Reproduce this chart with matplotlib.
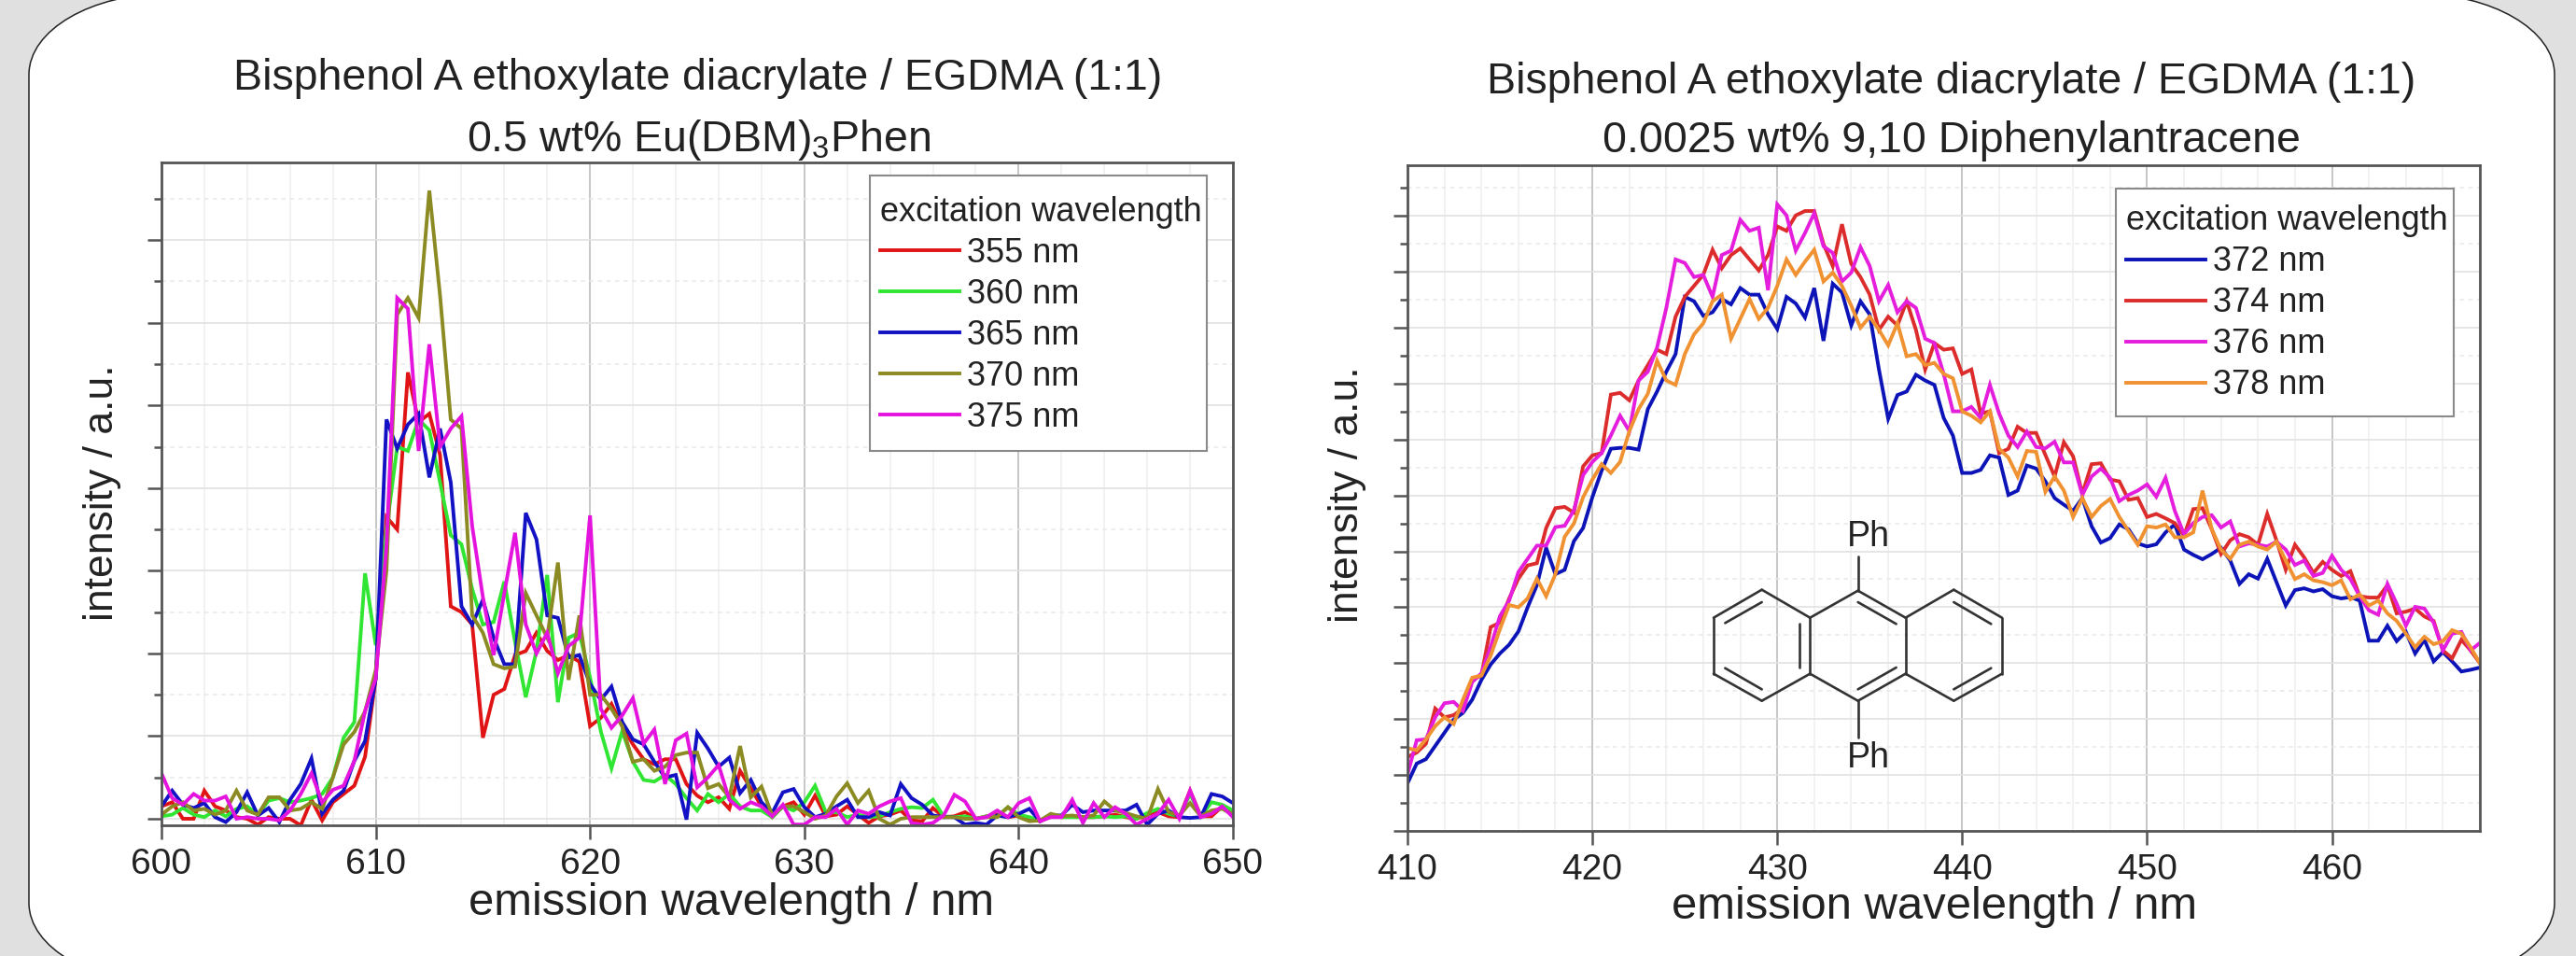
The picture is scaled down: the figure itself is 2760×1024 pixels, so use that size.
import numpy as np
import matplotlib
matplotlib.use("Agg")
import matplotlib.pyplot as plt
from matplotlib.path import Path
from matplotlib.patches import PathPatch, Rectangle
from matplotlib.ticker import MultipleLocator, NullFormatter

plt.rcParams['font.family'] = ['Liberation Sans', 'DejaVu Sans']
plt.rcParams['mathtext.default'] = 'regular'
plt.rcParams['mathtext.fontset'] = 'custom'
plt.rcParams['mathtext.rm'] = 'Liberation Sans'

W, H = 2760, 1024
TEXT = '#222222'

title_main = 'Bisphenol A ethoxylate diacrylate / EGDMA (1:1)'
title_left = '0.5 wt% Eu(DBM)$_3$Phen'
title_right = '0.0025 wt% 9,10 Diphenylantracene'
xlabel = 'emission wavelength / nm'
ylabel = 'intensity / a.u.'
legend_title = 'excitation wavelength'

# Left panel: emission 600-650 nm in 0.5 nm steps
wl_left = np.arange(600, 650.01, 0.5)
ex355 = [.15,.2,.0,.0,.34,.15,.1,.02,.0,-.07,
         .02,.0,.0,-.08,.23,-.02,.2,.3,.4,.75,
         1.7,3.65,3.5,5.4,4.8,4.9,4.4,2.57,2.5,2.35,
         .98,1.5,1.57,1.98,2.03,2.25,2.03,1.92,1.98,1.9,
         1.12,1.22,1.39,1.12,.9,.72,.66,.72,.72,.42,
         .28,.2,.26,.12,.58,.37,.15,.02,.15,.2,
         .05,.28,.03,.05,.15,.05,-.05,.03,.05,.1,
         -.02,-.03,.13,.02,.03,.08,.0,.03,.05,.02,
         .04,.0,-.03,.03,.02,.03,.02,.02,.03,.05,
         .02,.0,.05,.08,.03,.02,.34,.03,.03,.15,.05]
ex360 = [.03,.05,.13,.05,.02,.1,.03,.12,.15,.05,
         .22,.25,.2,.22,.25,.3,.5,.98,1.17,2.97,
         2.1,3.5,4.5,4.45,4.83,4.7,4.07,3.43,3.32,2.78,
         2.35,2.38,2.87,2.14,1.47,2.03,2.95,1.41,2.19,2.25,
         1.71,1.06,.61,1.06,.69,.47,.45,.53,.42,.25,
         .1,.3,.2,.3,.15,.1,.1,.02,.15,.1,
         .2,.4,.08,.08,.02,.05,.02,.03,.08,.12,
         .14,.13,.23,.03,.02,.03,.0,.03,.03,.14,
         .05,.02,-.02,.03,.02,.02,.02,.02,.03,.02,
         .03,.0,.07,.12,.06,.03,.3,.03,.2,.17,.1]
ex365 = [.15,.34,.17,.13,.19,.02,-.04,.08,.32,.04,
         .13,-.04,.23,.42,.73,.06,.23,.34,.7,.94,
         1.7,4.83,4.48,4.77,4.9,4.13,4.72,4.07,2.57,2.35,
         2.65,2.19,1.87,1.87,3.7,3.38,2.46,2.43,1.95,1.98,
         1.63,1.44,1.6,1.17,.96,.9,.69,.5,.53,-.01,
         1.04,.85,.63,.74,.31,.47,.2,.07,.32,.36,
         .14,.02,.06,.15,.23,.02,.02,.08,.04,.42,
         .25,.17,.04,.02,.02,-.07,-.05,-.07,.04,.02,
         .06,.12,-.03,.04,.04,.17,.08,.1,.1,.1,
         .1,.17,-.07,.06,.1,.02,.01,.02,.3,.27,.19]
ex370 = [.05,.15,.2,.1,.12,.05,.1,.34,.1,.05,
         .26,.26,.1,.12,.2,.12,.5,.9,1.05,1.3,
         1.8,3.0,6.1,6.3,6.06,7.6,6.33,4.83,4.72,2.46,
         2.25,1.87,1.82,1.84,2.73,2.46,2.19,3.1,1.68,2.46,
         1.5,1.5,1.33,1.12,.69,.72,.58,.63,.77,.8,
         .8,.37,.42,.26,.88,.26,.39,.04,.15,.15,
         .08,.0,.04,.27,.43,.19,.34,.0,-.07,.0,
         .02,.02,.02,.02,.02,.0,.0,.02,.02,.14,
         .02,-.03,-.02,.06,.03,.04,.02,.04,.21,.1,
         .07,.03,.0,.36,.08,.04,.19,.03,.1,.12,.05]
ex375 = [.55,.25,.17,.3,.22,.22,.27,.0,.02,.0,
         .0,-.02,.1,.3,.55,.2,.35,.4,.7,1.3,
         1.7,3.3,6.3,6.17,4.45,5.74,4.5,4.72,4.87,3.54,
         2.68,1.98,2.73,3.46,2.35,2.0,2.25,1.76,2.09,2.19,
         3.67,1.33,1.1,1.25,1.46,.91,1.08,.42,.95,1.03,
         .38,.5,.65,.23,.12,.2,.15,.03,.17,-.07,
         -.07,.02,.02,.12,-.07,.1,.06,.15,.21,.25,
         -.05,-.07,-.05,.04,.29,.21,.0,.02,.1,.02,
         .19,.25,-.03,.02,.02,.23,-.05,.19,.02,.14,
         .06,-.07,.0,.06,.23,.0,.34,.02,.06,.15,.02]
series_left = [ex355, ex360, ex365, ex370, ex375]
labels_left = ['355 nm', '360 nm', '365 nm', '370 nm', '375 nm']
colors_left = ['#e01414', '#30e632', '#1212c4', '#8c8a22', '#e414de']

# Right panel: emission 410-468 nm in 0.5 nm steps
wl_right = np.arange(410, 468.01, 0.5)
ex372 = [108,153,163,193,223,253,268,298,343,378,
         403,423,453,508,558,643,583,593,658,688,
         758,818,868,870,870,866,958,998,1043,1083,
         1213,1203,1170,1178,1208,1196,1233,1218,1218,1173,
         1140,1213,1198,1166,1233,1113,1243,1223,1148,1203,
         1173,1048,936,990,998,1036,1023,1013,938,898,
         813,813,820,853,848,763,773,830,823,794,
         756,741,727,756,692,655,665,696,685,653,
         646,651,678,696,639,627,617,629,643,614,
         561,583,573,618,565,512,547,551,544,549,
         533,528,531,523,432,432,466,431,452,403,
         434,385,406,385,362,366,371]
ex374 = [168,178,198,278,258,263,278,343,353,463,
         473,528,573,603,608,688,733,736,723,828,
         853,858,991,995,978,1023,1058,1093,1083,1168,
         1213,1238,1263,1320,1278,1308,1323,1298,1273,1308,
         1373,1363,1398,1408,1408,1333,1283,1378,1288,1258,
         1218,1138,1168,1148,1203,1138,1048,1108,1093,1096,
         1038,1048,948,953,858,868,918,904,904,854,
         805,883,851,766,833,835,798,794,752,756,
         713,720,710,699,671,731,733,685,629,660,
         674,667,650,720,660,593,650,621,586,611,
         593,579,590,533,530,530,558,494,498,505,
         487,477,410,392,434,410,381]
ex376 = [128,206,208,258,290,293,273,338,358,418,
         488,523,588,618,648,648,690,693,728,808,
         838,858,898,943,908,1023,1043,1098,1188,1298,
         1290,1258,1263,1213,1308,1318,1388,1363,1370,1228,
         1423,1398,1318,1358,1403,1328,1313,1248,1268,1326,
         1283,1203,1240,1178,1203,1188,1118,1108,1038,953,
         953,963,938,1013,948,898,872,907,872,869,
         884,837,837,763,805,823,802,749,763,773,
         787,759,802,727,674,699,713,717,689,703,
         646,653,650,646,657,639,604,614,579,586,
         625,593,572,533,501,491,561,516,466,509,
         505,473,410,448,452,410,427]
ex378 = [188,183,208,238,258,243,298,348,353,398,
         458,513,508,528,573,533,583,668,698,758,
         798,833,813,838,908,958,993,1068,1023,1013,
         1083,1128,1153,1203,1218,1118,1163,1208,1163,1188,
         1238,1298,1263,1293,1320,1248,1268,1238,1193,1143,
         1168,1138,1103,1153,1078,1083,1058,1063,1038,1028,
         953,943,928,953,868,848,805,863,861,770,
         805,773,713,756,713,738,754,713,681,650,
         692,689,696,667,667,678,773,685,639,618,
         650,657,646,639,657,614,572,583,569,565,
         558,569,526,537,512,523,494,477,448,417,
         441,424,431,456,448,417,381]
series_right = [ex372, ex374, ex376, ex378]
labels_right = ['372 nm', '374 nm', '376 nm', '378 nm']
colors_right = ['#0c14b8', '#dc2c2c', '#e41edc', '#f09232']

fig = plt.figure(figsize=(W / 100, H / 100), dpi=100)
fig.patch.set_facecolor('#e0e0e0')


def ax_px(x0, y0, x1, y1, **kw):
    return fig.add_axes([x0 / W, 1 - y1 / H, (x1 - x0) / W, (y1 - y0) / H], **kw)


# Rounded white card behind the charts
bg = ax_px(0, 0, W, H, zorder=0)
bg.set_xlim(0, W); bg.set_ylim(H, 0); bg.axis('off')
card_l, card_r, card_t, card_b = 31, 2737, -7, 1054
rx, ry, k = 150, 87, 0.5523
verts = [(card_l + rx, card_t), (card_r - rx, card_t),
         (card_r - rx + k * rx, card_t), (card_r, card_t + ry - k * ry), (card_r, card_t + ry),
         (card_r, card_b - ry),
         (card_r, card_b - ry + k * ry), (card_r - rx + k * rx, card_b), (card_r - rx, card_b),
         (card_l + rx, card_b),
         (card_l + rx - k * rx, card_b), (card_l, card_b - ry + k * ry), (card_l, card_b - ry),
         (card_l, card_t + ry),
         (card_l, card_t + ry - k * ry), (card_l + rx - k * rx, card_t), (card_l + rx, card_t),
         (card_l + rx, card_t)]
codes = [Path.MOVETO, Path.LINETO, Path.CURVE4, Path.CURVE4, Path.CURVE4, Path.LINETO,
         Path.CURVE4, Path.CURVE4, Path.CURVE4, Path.LINETO, Path.CURVE4, Path.CURVE4, Path.CURVE4,
         Path.LINETO, Path.CURVE4, Path.CURVE4, Path.CURVE4, Path.CLOSEPOLY]
bg.add_patch(PathPatch(Path(verts, codes), facecolor='white', edgecolor='#222222', lw=1.1, clip_on=False))


def style(ax, xlim, ylim, ymaj, ymin):
    ax.set_xlim(*xlim); ax.set_ylim(*ylim)
    ax.xaxis.set_major_locator(MultipleLocator(10))
    ax.xaxis.set_minor_locator(MultipleLocator(2))
    ax.yaxis.set_major_locator(MultipleLocator(ymaj))
    ax.yaxis.set_minor_locator(MultipleLocator(ymin))
    ax.yaxis.set_major_formatter(NullFormatter())
    ax.set_axisbelow(True)
    ax.grid(True, axis='x', which='major', color='#c2c2c2', lw=1.3)
    ax.grid(True, axis='y', which='major', color='#e2e2e2', lw=1.2)
    ax.grid(True, axis='x', which='minor', color='#efefef', lw=1.1)
    ax.grid(True, axis='y', which='minor', color='#e8e8e8', lw=1.1, ls=(0, (3, 3)))
    for s in ax.spines.values():
        s.set_color('#555555'); s.set_linewidth(2.0)
    ax.tick_params(axis='x', which='major', length=11, width=1.8, color='#555555',
                   labelsize=28, labelcolor=TEXT, pad=6)
    ax.tick_params(axis='x', which='minor', length=0)
    ax.tick_params(axis='y', which='major', length=11, width=1.8, color='#555555')
    ax.tick_params(axis='y', which='minor', length=5.5, width=1.8, color='#555555')


def legend(ax, frame_px, x0, y0, px_box, spacing):
    # Frame drawn separately: the reference has almost no padding to the right of the title
    bw, bh = px_box[2] - px_box[0], px_box[3] - px_box[1]
    fx0, fy0, fx1, fy1 = frame_px
    ax.add_patch(Rectangle(((fx0 - px_box[0]) / bw, 1 - (fy1 - px_box[1]) / bh),
                           (fx1 - fx0) / bw, (fy1 - fy0) / bh, transform=ax.transAxes,
                           facecolor='white', edgecolor='#8a8a8a', lw=1.5, zorder=4.9))
    lg = ax.legend(title=legend_title, alignment='left', loc='upper left',
                   bbox_to_anchor=((x0 - px_box[0]) / bw, 1 - (y0 - px_box[1]) / bh),
                   borderaxespad=0, fontsize=26, title_fontsize=26, frameon=False,
                   handlelength=2.35, handletextpad=0.22, labelspacing=spacing,
                   borderpad=0.42, labelcolor=TEXT)
    lg.set_zorder(5)
    lg.get_title().set_color(TEXT)
    for h in lg.get_lines():
        h.set_linewidth(2.8)
    return lg


box_l = (173, 174, 1321, 884)
axl = ax_px(*box_l, zorder=2)
for y, lab, c in zip(series_left, labels_left, colors_left):
    axl.plot(wl_left, y, color=c, lw=2.8, label=lab, solid_joinstyle='miter')
style(axl, (600, 650), (-0.079, 7.94), 1, 0.5)
legend(axl, (932, 188, 1293, 483), 928, 194.5, box_l, 0.25)

box_r = (1508, 176.5, 2657, 890)
axr = ax_px(*box_r, zorder=2)
for y, lab, c in zip(series_right, labels_right, colors_right):
    axr.plot(wl_right, y, color=c, lw=2.8, label=lab, solid_joinstyle='miter')
style(axr, (410, 468), (0, 1513), 127, 63.5)
legend(axr, (2267, 202, 2629, 446), 2263, 204, box_r, 0.25)

# Text and structure overlay in pixel coordinates
ov = ax_px(0, 0, W, H, zorder=3)
ov.set_xlim(0, W); ov.set_ylim(H, 0); ov.axis('off'); ov.patch.set_alpha(0)


def T(x, y, s, size=33.5, **kw):
    ov.text(x, y, s, fontsize=size, color=TEXT, ha='center', va='center', **kw)


T(748, 84, title_main)
T(748, 150, title_left)
T(2091, 88, title_main)
T(2091, 151, title_right)
T(784, 968, xlabel, size=35.3)
T(2073, 972, xlabel, size=35.3)
T(109, 528, ylabel, size=32, rotation=90)
T(1443, 530, ylabel, size=32, rotation=90)

# 9,10-diphenylanthracene skeleton (crop offsets give pixel positions)
ox, oy, sc = 1750, 540, 3
bonds = [((258,365),(413,275)), ((413,275),(568,365)), ((568,365),(568,545)), ((568,545),(413,632)),
         ((413,632),(258,545)), ((258,545),(258,365)), ((568,365),(722,278)), ((722,278),(875,365)),
         ((875,365),(875,545)), ((875,545),(722,632)), ((722,632),(568,545)), ((875,365),(1030,275)),
         ((1030,275),(1185,365)), ((1185,365),(1185,545)), ((1185,545),(1030,632)), ((1030,632),(875,545)),
         ((295,382),(413,315)), ((295,527),(413,595)), ((535,385),(535,525)), ((722,315),(845,385)),
         ((722,595),(845,525)), ((1030,315),(1150,385)), ((1030,595),(1150,527)),
         ((722,278),(722,168)), ((722,632),(722,750))]
for a, b in bonds:
    ov.plot([ox + a[0] / sc, ox + b[0] / sc], [oy + a[1] / sc, oy + b[1] / sc],
            color='#333333', lw=1.9, solid_capstyle='round')
T(ox + 757 / sc, oy + 105 / sc, 'Ph', size=27)
T(ox + 757 / sc, oy + 815 / sc, 'Ph', size=27)

fig.savefig('out.png', dpi=100, facecolor=fig.get_facecolor())
